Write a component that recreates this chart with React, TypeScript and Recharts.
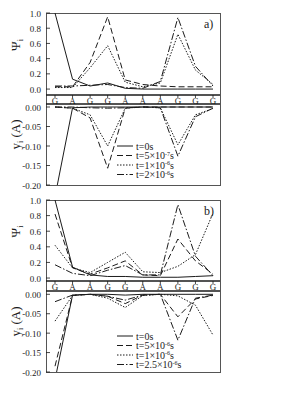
import React from "react";
import { LineChart, Line, XAxis, YAxis } from "recharts";

// base sequences
const catsA = ["G", "A", "G", "G", "A", "A", "A", "G", "G", "G"];
const catsB = ["G", "A", "A", "G", "G", "A", "A", "G", "G", "G"];

// panel a) hole probability Psi_i
const psiA0 = [1.0, 0.13, 0.04, 0.08, 0.01, 0.0, 0.0, 0.0, 0.0, 0.0];
const psiA1 = [0.03, 0.03, 0.35, 0.95, 0.12, 0.06, 0.04, 0.03, 0.03, 0.03];
const psiA2 = [0.02, 0.02, 0.28, 0.57, 0.09, 0.03, 0.08, 0.72, 0.25, 0.06];
const psiA3 = [0.04, 0.04, 0.05, 0.06, 0.02, 0.01, 0.1, 0.94, 0.3, 0.04];

// panel a) displacement y_i (A)
const yA0 = [-0.23, -0.002, 0, 0, 0, 0, 0, 0, 0, 0];
const yA1 = [0, -0.003, -0.028, -0.157, -0.003, 0, 0, 0, 0, 0];
const yA2 = [0, -0.003, -0.02, -0.1, -0.003, 0, -0.002, -0.097, -0.02, -0.004];
const yA3 = [0, 0, -0.002, -0.003, -0.002, 0, -0.002, -0.126, -0.025, -0.003];

// panel b)
const psiB0 = [1.0, 0.14, 0.04, 0.02, 0.02, 0.01, 0.01, 0.01, 0.02, 0.03];
const psiB1 = [0.82, 0.13, 0.05, 0.13, 0.22, 0.04, 0.03, 0.5, 0.22, 0.05];
const psiB2 = [0.42, 0.13, 0.07, 0.2, 0.33, 0.08, 0.07, 0.15, 0.3, 0.83];
const psiB3 = [0.17, 0.06, 0.03, 0.1, 0.16, 0.04, 0.04, 0.94, 0.28, 0.03];

const yB0 = [-0.22, -0.002, 0, 0, -0.002, 0, 0, 0, 0, 0];
const yB1 = [-0.185, -0.003, 0, -0.005, -0.024, -0.002, 0, -0.058, -0.012, -0.003];
const yB2 = [-0.069, -0.003, 0, -0.01, -0.034, -0.003, 0, -0.004, -0.028, -0.105];
const yB3 = [-0.019, -0.002, 0, -0.005, -0.015, -0.002, 0, -0.118, -0.01, -0.002];

const psiTicks = [0, 0.2, 0.4, 0.6, 0.8, 1.0];
const yTicks = [0, -0.05, -0.1, -0.15, -0.2];

const legendA = [
  { base: "t=0s", exp: "", tail: "" },
  { base: "t=5×10", exp: "-7", tail: "s" },
  { base: "t=1×10", exp: "-6", tail: "s" },
  { base: "t=2×10", exp: "-6", tail: "s" },
];
const legendB = [
  { base: "t=0s", exp: "", tail: "" },
  { base: "t=5×10", exp: "-6", tail: "s" },
  { base: "t=1×10", exp: "-6", tail: "s" },
  { base: "t=2.5×10", exp: "-6", tail: "s" },
];

const FONT = '"Liberation Serif", "DejaVu Serif", serif';
const INK = "#1b1b1b";
const DASHES = [undefined, "6 3", "1.5 1.5", "7 2 1.5 2"];

const XTick = (props: any) => {
  const { x, y, payload, cats } = props;
  return (
    <g>
      <line x1={x} x2={x} y1={y} y2={y + 3} stroke={INK} strokeWidth={0.8} />
      <text x={x} y={y + 9} textAnchor="middle" fontSize={9} fontFamily={FONT} fill={INK}>
        {cats[payload.value]}
      </text>
    </g>
  );
};

const YTick = (props: any) => {
  const { x, y, payload, digits } = props;
  return (
    <g>
      <line x1={x} x2={x + 4} y1={y} y2={y} stroke={INK} strokeWidth={0.8} />
      <text x={x - 5} y={y + 3.5} textAnchor="end" fontSize={9} fontFamily={FONT} fill={INK}>
        {payload.value.toFixed(digits)}
      </text>
    </g>
  );
};

const axisTitle = (main: string, sub: string, rest: string, dy: number) => (props: any) => {
  const vb = props.viewBox;
  const cx = 20;
  const cy = vb.y + vb.height / 2 + dy;
  return (
    <text
      x={cx}
      y={cy}
      transform={`rotate(-90 ${cx} ${cy})`}
      textAnchor="middle"
      fontSize={13}
      fontFamily={FONT}
      fill={INK}
    >
      {main}
      <tspan dy={3} fontSize={8}>{sub}</tspan>
      <tspan dy={-3}>{rest}</tspan>
    </text>
  );
};

const LegendBox = ({ items, left, top }: any) => (
  <svg width={100} height={44} style={{ position: "absolute", left, top }}>
    {items.map((it: any, k: number) => {
      const cy = 5 + k * 9.5;
      return (
        <g key={k}>
          <line x1={5} x2={21} y1={cy} y2={cy} stroke={INK} strokeWidth={1} strokeDasharray={DASHES[k]} />
          <text x={24} y={cy + 3.5} fontSize={10} fontFamily={FONT} fill={INK}>
            {it.base}
            {it.exp ? (
              <>
                <tspan dy={-3.5} fontSize={6}>{it.exp}</tspan>
                <tspan dy={3.5}>{it.tail}</tspan>
              </>
            ) : null}
          </text>
        </g>
      );
    })}
  </svg>
);

const PLOT_L = 46;
const PLOT_R = 220;

function Panel({ cats, psi, ys, legend, tag, g }: any) {
  const rows = cats.map((c: string, i: number) => ({
    i,
    p0: psi[0][i],
    p1: psi[1][i],
    p2: psi[2][i],
    p3: psi[3][i],
    y0: ys[0][i],
    y1: ys[1][i],
    y2: ys[2][i],
    y3: ys[3][i],
  }));
  const margin = { left: 6, right: 306 - PLOT_R };
  return (
    <>
      <div
        style={{
          position: "absolute",
          left: PLOT_L,
          top: g.top,
          width: PLOT_R - PLOT_L + 1,
          height: g.bottom - g.top + 1,
          border: "1px solid #555",
          boxSizing: "border-box",
        }}
      />
      <div style={{ position: "absolute", left: 0, top: 0 }}>
        <LineChart width={306} height={g.sep + 10} data={rows} margin={{ ...margin, top: g.top, bottom: 0 }}>
          <XAxis
            dataKey="i"
            type="category"
            height={10}
            interval={0}
            padding={{ left: 9, right: 7 }}
            axisLine={{ stroke: INK, strokeWidth: 1.3 }}
            tickLine={false}
            tickSize={0}
            tickMargin={0}
            tick={<XTick cats={cats} />}
          />
          <YAxis
            domain={[g.psiMin, 1]}
            ticks={psiTicks}
            interval={0}
            allowDataOverflow
            width={40}
            axisLine={false}
            tickLine={false}
            tickSize={0}
            tickMargin={0}
            tick={<YTick digits={1} />}
            label={{ content: axisTitle("Ψ", "i", "", -9) }}
          />
          {["p0", "p1", "p2", "p3"].map((k, n) => (
            <Line
              key={k}
              dataKey={k}
              stroke={INK}
              strokeWidth={1}
              strokeDasharray={DASHES[n]}
              dot={false}
              isAnimationActive={false}
            />
          ))}
        </LineChart>
      </div>
      <div style={{ position: "absolute", left: 0, top: 0 }}>
        <LineChart width={306} height={g.bottom + 4} data={rows} margin={{ ...margin, top: g.low - 1, bottom: 4 }}>
          <XAxis
            dataKey="i"
            type="category"
            orientation="top"
            height={1}
            padding={{ left: 9, right: 7 }}
            axisLine={{ stroke: INK, strokeWidth: 1.5 }}
            tickLine={false}
            tick={false}
          />
          <YAxis
            domain={[-0.2, g.yMax]}
            ticks={yTicks}
            interval={0}
            allowDataOverflow
            width={40}
            axisLine={false}
            tickLine={false}
            tickSize={0}
            tickMargin={0}
            tick={<YTick digits={2} />}
            label={{ content: axisTitle("y", "i", " (A)", -10) }}
          />
          {["y0", "y1", "y2", "y3"].map((k, n) => (
            <Line
              key={k}
              dataKey={k}
              stroke={INK}
              strokeWidth={1}
              strokeDasharray={DASHES[n]}
              dot={false}
              isAnimationActive={false}
            />
          ))}
        </LineChart>
      </div>
      <LegendBox items={legend} left={112} top={g.legendTop} />
      <div
        style={{
          position: "absolute",
          left: 204,
          top: g.top + 4,
          fontFamily: FONT,
          fontSize: 12,
          color: INK,
        }}
      >
        {tag}
      </div>
    </>
  );
}

export default function App() {
  return (
    <div style={{ position: "absolute", left: 0, top: 0, width: 306, height: 396, background: "#fff" }}>
      <Panel
        cats={catsA}
        psi={[psiA0, psiA1, psiA2, psiA3]}
        ys={[yA0, yA1, yA2, yA3]}
        legend={legendA}
        tag="a)"
        g={{ top: 13, sep: 95, low: 104, bottom: 185, psiMin: -0.078, yMax: 0.0077, legendTop: 141 }}
      />
      <Panel
        cats={catsB}
        psi={[psiB0, psiB1, psiB2, psiB3]}
        ys={[yB0, yB1, yB2, yB3]}
        legend={legendB}
        tag="b)"
        g={{ top: 200, sep: 281, low: 291, bottom: 372, psiMin: -0.038, yMax: 0.0085, legendTop: 331 }}
      />
    </div>
  );
}
